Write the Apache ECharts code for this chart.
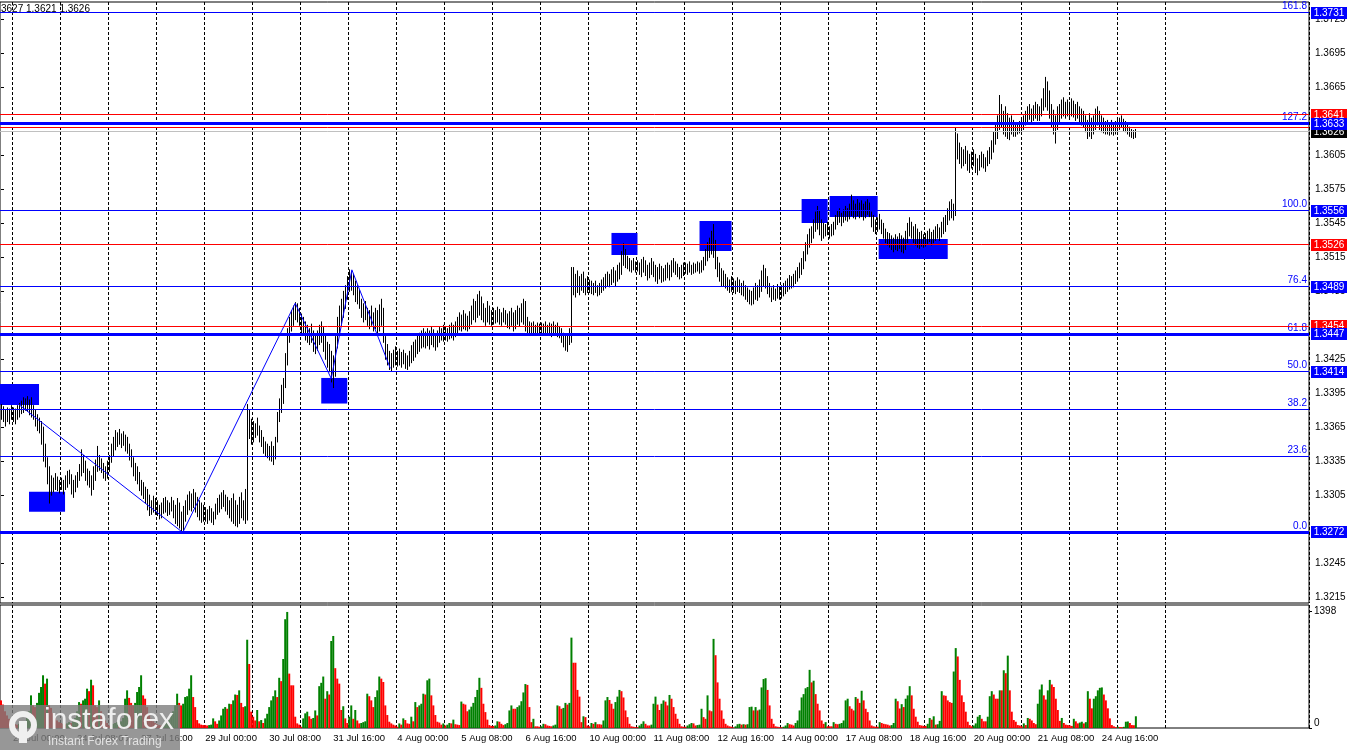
<!DOCTYPE html>
<html>
<head>
<meta charset="utf-8">
<script src="https://cdn.jsdelivr.net/npm/echarts@6/dist/echarts.min.js"></script>
<style>
html, body { margin: 0; padding: 0; background: #fff; }
#chart { width: 1350px; height: 750px; }
</style>
</head>
<body>
<div id="chart"></div>
<script>
'use strict';

// hourly bars, 22 Jul 18:00 .. 25 Aug 09:00, prices in pips above 1.3000
var highs = [
  385,383,380,382,381,384,
  382,381,384,386,388,391, 390,392,389,391,384,380, 376,373,370,365,350,338, 330,322,320,324,321,318,
  320,318,322,326,327,323, 318,322,325,332,345,340, 335,328,326,322,330,336, 348,340,337,333,330,335,
  340,350,356,362,360,363, 359,361,358,356,350,345, 338,333,330,325,318,316, 312,310,305,300,304,302,
  300,296,298,302,303,300, 298,303,300,296,302,298, 290,295,300,305,308,306, 310,307,303,300,298,296,
  294,292,295,293,290,297, 302,305,307,309,305,303, 300,302,306,300,296,303, 307,300,310,385,380,372,
  370,368,373,366,362,356, 352,350,348,352,348,356, 378,390,402,408,430,452, 462,468,472,475,474,470,
  465,462,458,455,452,456, 450,446,450,455,458,453, 447,440,438,432,428,445, 462,472,478,485,490,498,
  504,502,500,494,490,486, 478,474,476,470,468,472, 466,470,468,473,478,470, 445,438,432,430,433,436,
  432,434,431,433,430,428, 432,437,440,442,446,448, 450,452,449,452,450,453, 451,447,450,453,452,455,
  454,452,455,457,455,458, 462,466,464,468,465,463, 467,472,478,476,482,485, 480,474,470,476,472,468,
  470,468,471,469,466,470, 468,465,467,470,466,468, 472,470,474,478,476,462, 458,457,458,455,457,456,
  457,456,458,455,457,456, 458,455,457,454,452,448, 446,447,452,506,506,500, 503,498,500,502,496,498,
  495,494,492,494,490,492, 495,497,500,502,500,504, 506,503,508,510,520,527, 522,516,514,512,514,511,
  512,510,513,515,512,508, 510,514,511,508,506,509, 507,505,508,510,508,512, 514,511,509,506,508,510,
  510,509,511,508,510,509, 511,510,512,515,522,528, 532,538,544,530,515,510, 505,503,500,497,495,498,
  496,494,497,495,492,494, 490,488,486,485,488,492, 490,495,503,508,505,498, 492,488,490,487,491,489,
  490,492,494,496,499,498, 500,503,506,510,514,520, 528,535,540,542,548,555, 560,556,548,545,544,546,
  542,544,546,552,556,558, 554,557,560,558,562,570, 565,562,566,563,565,562, 564,566,563,555,552,548,
  550,553,548,545,540,537, 536,534,532,535,533,536, 534,532,538,545,550,546, 542,544,540,537,538,535,
  536,538,540,537,539,542, 544,541,546,550,552,558, 564,566,562,629,624,616, 612,610,613,609,606,608,
  610,606,602,605,608,606, 603,609,612,618,626,632, 640,658,650,644,648,642, 638,640,636,634,632,635,
  636,640,644,648,650,646, 649,652,650,648,655,664, 674,670,662,650,645,640, 648,650,654,656,652,654,
  652,655,653,650,652,648, 646,644,640,636,642,638, 640,646,648,644,640,638, 635,636,634,636,634,635,
  636,638,640,637,635,634, 630,628,627,628
];
var lows = [
  372,370,366,370,368,372,
  370,368,372,374,377,378, 380,379,376,374,372,366, 362,360,350,335,330,315, 298,305,308,310,309,307,
  310,306,310,312,315,306, 303,308,312,318,322,325, 318,314,312,305,310,318, 326,327,325,320,318,320,
  326,334,340,345,348,350, 347,349,344,342,336,330, 322,318,315,309,305,302, 298,292,287,288,290,288,
  287,284,285,289,290,287, 288,291,285,280,278,276, 273,274,282,288,292,291, 294,290,286,283,281,282,
  282,280,283,281,279,284, 288,290,293,295,291,288, 285,282,280,278,277,280, 285,283,280,283,355,350,
  352,356,358,352,348,342, 340,338,336,335,332,337, 352,370,378,386,400,420, 440,450,455,460,458,455,
  448,446,442,440,438,440, 432,430,433,438,440,432, 425,418,414,405,400,410, 435,448,455,462,470,478,
  485,486,482,476,474,470, 462,458,460,455,452,455, 450,452,446,450,455,440, 425,420,416,415,418,420,
  419,420,418,421,417,416, 419,422,424,427,430,432, 435,436,435,437,434,438, 436,433,436,440,442,441,
  442,441,443,444,442,445, 448,451,450,452,451,450, 452,456,460,458,462,464, 460,458,455,458,456,455,
  456,457,458,456,455,458, 456,453,452,455,450,452, 456,454,458,456,450,448, 447,448,447,446,448,447,
  447,446,448,446,447,445, 447,446,445,444,440,436, 433,432,438,440,482,480, 484,482,486,484,482,484,
  484,483,482,484,481,482, 484,486,488,490,489,491, 493,490,494,496,500,508, 506,505,503,502,504,502,
  503,500,498,502,499,495, 497,500,498,494,492,496, 493,494,495,497,495,498, 502,500,498,496,497,499,
  501,500,502,500,501,502, 503,501,502,504,508,512, 515,518,515,505,498,494, 490,490,488,486,484,485,
  484,483,485,484,482,481, 478,476,474,473,474,478, 477,480,485,490,488,483, 480,476,478,477,479,478,
  479,481,483,485,487,488, 489,492,494,497,500,505, 512,518,524,528,532,538, 540,535,530,532,534,535,
  532,534,535,540,544,546, 543,546,548,547,549,552, 550,549,552,550,551,548, 550,553,551,542,538,536,
  538,540,536,532,528,526, 524,522,520,522,521,523, 520,519,522,528,534,532, 528,526,524,523,525,524,
  525,527,529,526,528,530, 532,530,533,536,538,544, 548,550,548,552,602,598, 594,596,598,592,590,594,
  596,590,588,592,595,594, 591,596,598,602,608,615, 620,628,630,624,622,620, 619,624,622,622,624,625,
  626,628,632,634,637,634, 636,638,636,636,640,645, 648,645,638,630,624,616, 628,634,638,640,638,640,
  638,640,639,636,638,634, 632,630,626,620,622,620, 624,628,632,628,626,625, 624,624,623,624,623,624,
  626,628,630,627,626,624, 622,621,620,621
];
var volumes = [
  330,280,200,150,110,80,
  60,45,40,50,70,60, 80,120,200,390,270,250, 300,420,490,630,530,590, 270,240,180,120,90,70,
  60,50,45,55,70,60, 80,120,200,310,290,330, 350,470,440,577,510,270, 250,330,200,130,90,60,
  30,45,50,60,70,60, 80,120,350,450,360,300, 270,300,430,490,630,390, 350,250,160,110,80,60,
  45,35,30,35,50,70, 100,150,200,270,410,300, 270,290,370,380,470,630, 370,250,95,55,40,35,
  35,30,35,40,115,80, 50,90,150,230,250,230, 290,285,330,400,395,450, 300,250,260,1055,765,195,
  135,90,215,80,95,60, 115,170,250,330,380,450, 370,600,560,825,1300,1387, 650,510,510,135,55,40,
  15,115,175,195,140,110, 120,210,150,500,540,615, 350,440,400,1040,1100,715, 590,530,215,260,115,60,
  135,270,110,215,90,55, 60,70,80,410,380,330, 250,370,450,615,590,550, 270,155,75,55,40,30,
  15,55,40,115,95,55, 50,135,80,310,250,270, 290,410,400,570,590,390, 270,155,75,65,40,55,
  30,40,60,55,100,45, 40,35,316,290,280,200, 220,255,300,370,455,600, 480,290,190,100,35,25,
  25,30,80,75,50,35, 45,60,210,270,230,230, 250,270,320,425,525,515, 250,70,110,20,20,15,
  20,50,45,30,25,20, 30,40,270,260,230,240, 300,280,300,1080,780,780, 455,375,70,140,130,30,
  20,60,50,70,45,45, 40,90,330,370,335,290, 230,310,375,455,440,365, 210,130,50,20,15,10,
  10,30,50,80,50,30, 30,40,290,375,280,215, 290,330,315,270,395,350, 250,170,110,50,20,15,
  15,30,45,60,55,30, 35,40,230,130,110,390, 210,200,1065,870,545,350, 210,110,50,30,20,15,
  5,20,45,50,40,45, 40,45,250,255,210,250, 210,220,485,585,595,455, 270,110,50,20,15,10,
  10,15,30,60,45,40, 30,60,90,210,365,405, 475,490,695,545,565,405, 290,210,90,50,70,20,
  20,20,70,50,45,50, 60,90,330,350,260,230, 210,370,350,300,445,330, 230,190,90,30,20,15,
  15,70,60,50,45,40, 30,35,60,350,320,233, 285,250,350,390,500,390, 230,135,75,35,30,25,
  25,50,120,100,140,40, 45,85,440,390,385,330, 310,300,675,955,855,575, 390,310,195,75,35,20,
  30,55,135,155,110,80, 80,135,380,440,400,350, 350,450,450,690,655,865, 450,195,95,75,35,30,
  20,55,35,120,110,90, 60,45,290,460,520,390, 340,450,575,520,490,350, 215,85,120,60,40,35,
  30,25,110,80,55,65, 75,55,70,440,350,235, 350,380,450,480,485,400, 330,235,115,35,20,10,
  15,12,10,14,75,78, 60,35,33,140
];

var tickLabels = ['23 Jul 00:00', '24 Jul 08:00', '27 Jul 16:00', '29 Jul 00:00', '30 Jul 08:00',
  '31 Jul 16:00', '4 Aug 00:00', '5 Aug 08:00', '6 Aug 16:00', '10 Aug 00:00', '11 Aug 08:00',
  '12 Aug 16:00', '14 Aug 00:00', '17 Aug 08:00', '18 Aug 16:00', '20 Aug 00:00', '21 Aug 08:00',
  '24 Aug 16:00'];
var priceTicks = [1.3215, 1.3245, 1.3305, 1.3335, 1.3365, 1.3395, 1.3425, 1.3485, 1.3515,
  1.3545, 1.3575, 1.3605, 1.3665, 1.3695, 1.3725];
var volumeTicks = [0, 1398];

// horizontal levels
var fibPrices = [1.3731, 1.3633, 1.3556, 1.3489, 1.3447, 1.3414, 1.3381, 1.3339, 1.3272];
var fibNames = ['161.8', '127.2', '100.0', '76.4', '61.8', '50.0', '38.2', '23.6', '0.0'];
var redLevels = [1.3641, 1.3526, 1.3454];
var redPlain = [1.3630];
var bidPrice = 1.3626;
var blueLevels = [1.3731, 1.3633, 1.3556, 1.3489, 1.3447, 1.3414, 1.3272];
var thickLevels = [1.3633, 1.3447, 1.3272];

// swing line and rectangles, in bar index / price
var zigzag = [[-0.5, 1.3398], [90.8, 1.3272], [147, 1.34745], [165, 1.3408], [175.3, 1.3504], [194.5, 1.3417]];
var boxes = [
  [-0.5, 19, 1.34032, 1.33846],
  [14, 32, 1.33080, 1.32904],
  [160, 173, 1.34085, 1.33859],
  [305, 318, 1.35366, 1.35171],
  [349, 365, 1.35472, 1.35206],
  [400, 413, 1.35666, 1.35454],
  [414, 438, 1.35692, 1.35507],
  [438.5, 473, 1.35313, 1.35136]
];

var SLOTS = 654;
var FONT = 'Liberation Sans';
var BLUE = '#0000ff', RED = '#ff0000', GREEN = '#008000';

var barSlots = [];
for (var s = 0; s < SLOTS; s++) barSlots.push(String(s));

function toPrice(p) { return 1.3 + p / 10000; }

var priceBars = highs.map(function (h, i) { return [i, toPrice(lows[i]), toPrice(h)]; });
var volBars = volumes.map(function (v, i) {
  return { value: v, itemStyle: { color: (i > 0 && v > volumes[i - 1]) ? GREEN : RED } };
});

function isDayStart(index) {
  return index >= 6 && (index - 6) % 24 === 0 && index <= 582;
}
function isLabelSlot(index) {
  return index >= 6 && (index - 6) % 32 === 0 && (index - 6) / 32 < tickLabels.length;
}

// drawing order of the level lines: later rows are painted on top
var levelRows = [];
fibPrices.forEach(function (p, i) { levelRows.push({ price: p, color: BLUE, width: 1, fib: fibNames[i] }); });
redPlain.forEach(function (p) { levelRows.push({ price: p, color: RED, width: 1 }); });
redLevels.forEach(function (p) { levelRows.push({ price: p, color: RED, width: 1, box: RED }); });
levelRows.push({ price: bidPrice, color: '#c0c0c0', width: 1, box: '#000' });
blueLevels.forEach(function (p) {
  levelRows.push({ price: p, color: BLUE, width: thickLevels.indexOf(p) >= 0 ? 3 : 1, box: BLUE });
});

function renderLevel(params, api) {
  var row = levelRows[params.dataIndex];
  var cs = params.coordSys;
  var pt = api.coord([0, api.value(1)]);
  var y = row.width % 2 ? Math.round(pt[1] - 0.5) + 0.5 : Math.round(pt[1]);
  var right = cs.x + cs.width;
  var kids = [{ type: 'line', shape: { x1: cs.x, y1: y, x2: right, y2: y },
    style: { stroke: row.color, lineWidth: row.width } }];
  if (row.fib) {
    kids.push({ type: 'text', x: right - 2, y: y - 1,
      style: { text: row.fib, fill: BLUE, font: '10px "Liberation Sans"', align: 'right', verticalAlign: 'bottom' } });
  }
  if (row.box) {
    var yb = Math.round(pt[1]);
    kids.push({ type: 'rect', shape: { x: right + 2, y: yb - 6, width: 36, height: 12 }, style: { fill: row.box } });
    kids.push({ type: 'text', x: right + 20, y: yb + 0.5,
      style: { text: row.price.toFixed(4), fill: '#fff', font: '10px "Liberation Sans"', align: 'center', verticalAlign: 'middle' } });
  }
  return { type: 'group', children: kids };
}

var dashLine = { show: true, interval: isDayStart, lineStyle: { color: '#000', width: 1, type: [3, 2] } };

var option = {
  animation: false,
  backgroundColor: '#fff',
  textStyle: { fontFamily: FONT },
  grid: [
    { left: 0, top: 2, width: 1309, height: 601, show: true, borderColor: '#000', borderWidth: 1 },
    { left: 0, top: 605, width: 1309, height: 123, show: true, borderColor: '#000', borderWidth: 1 }
  ],
  xAxis: [
    { type: 'category', gridIndex: 0, data: barSlots, axisLine: { show: false }, axisTick: { show: false },
      axisLabel: { show: false }, splitLine: dashLine },
    { type: 'category', gridIndex: 1, data: barSlots, axisLine: { show: false }, axisTick: { show: false },
      axisLabel: { show: true, interval: isLabelSlot, align: 'left', margin: 5, fontSize: 9.5, color: '#000',
        formatter: function (v, idx) { return tickLabels[(idx - 6) / 32]; } },
      splitLine: dashLine },
    { type: 'value', gridIndex: 0, min: -0.5, max: SLOTS - 0.5, show: false }
  ],
  yAxis: [
    { type: 'value', gridIndex: 0, position: 'right', min: 1.32097, max: 1.37406,
      axisLine: { show: false }, splitLine: { show: false },
      axisTick: { show: true, customValues: priceTicks, length: 3, lineStyle: { color: '#000' } },
      axisLabel: { show: true, customValues: priceTicks, margin: 6, fontSize: 10, color: '#000',
        formatter: function (v) { return v.toFixed(4); } } },
    { type: 'value', gridIndex: 1, position: 'right', min: 0, max: 1470,
      axisLine: { show: false }, splitLine: { show: false },
      axisTick: { show: true, customValues: volumeTicks, length: 3, lineStyle: { color: '#000' } },
      axisLabel: { show: true, customValues: volumeTicks, margin: 5,
        formatter: function (v) { return v === 0 ? '{lo|0}' : '{hi|' + v + '}'; },
        rich: { lo: { fontSize: 10, color: '#000', padding: [0, 0, 10, 0] }, hi: { fontSize: 10, color: '#000' } } } }
  ],
  series: [
    {
      type: 'custom', xAxisIndex: 0, yAxisIndex: 0, z: 3, silent: true,
      data: priceBars,
      encode: { x: 0, y: [1, 2] },
      renderItem: function (params, api) {
        var lo = api.coord([api.value(0), api.value(1)]);
        var hi = api.coord([api.value(0), api.value(2)]);
        var x = Math.floor(lo[0]) + 0.5;
        return { type: 'line', shape: { x1: x, y1: lo[1] + 0.5, x2: x, y2: hi[1] - 0.5 },
          style: { stroke: '#000', lineWidth: 1 } };
      }
    },
    {
      type: 'line', xAxisIndex: 2, yAxisIndex: 0, z: 4, clip: false, silent: true,
      data: zigzag, symbol: 'none', lineStyle: { color: BLUE, width: 1 },
      markArea: {
        silent: true, precision: 5, itemStyle: { color: BLUE, opacity: 1 },
        data: boxes.map(function (b) { return [{ xAxis: b[0], yAxis: b[2] }, { xAxis: b[1], yAxis: b[3] }]; })
      }
    },
    {
      type: 'custom', xAxisIndex: 2, yAxisIndex: 0, z: 5, silent: true, clip: false,
      data: levelRows.map(function (r, i) { return [i, r.price]; }),
      encode: { x: 0, y: 1 },
      renderItem: renderLevel
    },
    {
      type: 'bar', xAxisIndex: 1, yAxisIndex: 1, barWidth: 2, silent: true, data: volBars
    }
  ],
  graphic: [
    { type: 'text', left: 1, top: 4, z: 10,
      style: { text: '3627 1.3621 1.3626', font: '10px "Liberation Sans"', fill: '#000' } },
    { type: 'group', left: 0, top: 705, z: 100, children: [
      { type: 'rect', z: 100, shape: { x: 0, y: 0, width: 180, height: 45 }, style: { fill: 'rgba(125,125,125,0.8)' } },
      { type: 'circle', z: 101, shape: { cx: 23, cy: 20, r: 11 }, style: { fill: 'none', stroke: '#efefef', lineWidth: 6 } },
      { type: 'rect', z: 101, shape: { x: 19, y: 16, width: 8, height: 22 }, style: { fill: '#efefef' } },
      { type: 'text', z: 101, x: 44, y: 1, style: { text: 'instaforex', font: '30px "Liberation Sans"', fill: '#eeeeee' } },
      { type: 'text', z: 101, x: 48, y: 31, style: { text: 'Instant Forex Trading', font: '12px "Liberation Sans"', fill: '#e2e2e2' } }
    ] }
  ]
};

var chart = echarts.init(document.getElementById('chart'));
chart.setOption(option);
</script>
</body>
</html>
